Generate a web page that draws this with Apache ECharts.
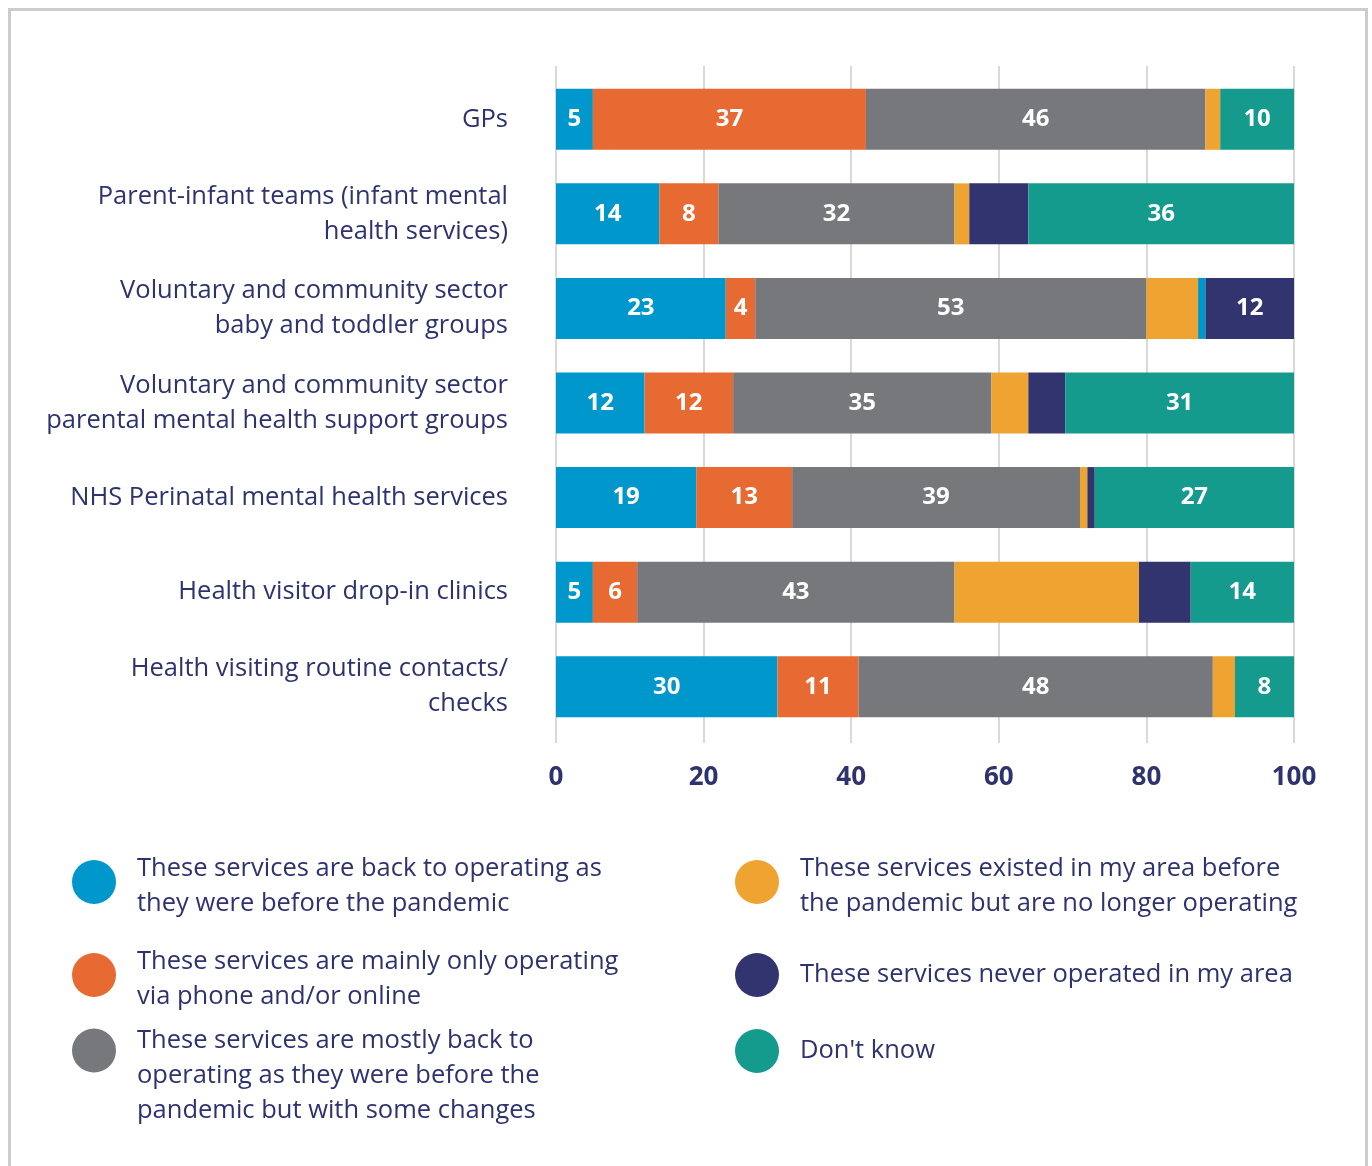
<!DOCTYPE html>
<html>
<head>
<meta charset="utf-8">
<style>
  html, body { margin: 0; padding: 0; background: #ffffff; }
  #chart { width: 1372px; height: 1166px; }
</style>
<script src="https://cdn.jsdelivr.net/npm/echarts@6/dist/echarts.min.js"></script>
</head>
<body>
<div id="chart"></div>
<script>
// Services, top to bottom
const categories = [
  'GPs',
  'Parent-infant teams (infant mental\nhealth services)',
  'Voluntary and community sector\nbaby and toddler groups',
  'Voluntary and community sector\nparental mental health support groups',
  'NHS Perinatal mental health services',
  'Health visitor drop-in clinics',
  'Health visiting routine contacts/\nchecks'
];

// Percentage of respondents per service status
const backAsBefore      = [5, 14, 23, 12, 19, 5, 30];
const phoneOnline       = [37, 8, 4, 12, 13, 6, 11];
const mostlyBack        = [46, 32, 53, 35, 39, 43, 48];
const noLongerOperating = [2, 2, 7, 5, 1, 25, 3];
// small extra segment in the first colour, drawn after the yellow one
const backAsBeforeExtra = [0, 0, 1, 0, 0, 0, 0];
const neverOperated     = [0, 8, 12, 5, 1, 7, 0];
const dontKnow          = [10, 36, 0, 31, 27, 14, 8];

const xTicks = [0, 20, 40, 60, 80, 100];

const legendText = {
  'These services are back to operating as they were before the pandemic':
    'These services are back to operating as\nthey were before the pandemic',
  'These services are mainly only operating via phone and/or online':
    'These services are mainly only operating\nvia phone and/or online',
  'These services are mostly back to operating as they were before the pandemic but with some changes':
    'These services are mostly back to\noperating as they were before the\npandemic but with some changes',
  'These services existed in my area before the pandemic but are no longer operating':
    'These services existed in my area before\nthe pandemic but are no longer operating',
  'These services never operated in my area':
    'These services never operated in my area',
  "Don't know": "Don't know"
};
const names = Object.keys(legendText);

const NAVY = '#2e3370';
const FONT = '"Open Sans", "Noto Sans", sans-serif';
const TEXT_SIZE = 25.5;

function barSeries(name, data, color, minLabel) {
  return {
    name: name,
    type: 'bar',
    stack: 'total',
    barWidth: 61,
    data: data,
    itemStyle: { color: color },
    label: {
      show: true,
      position: 'inside',
      color: '#ffffff',
      fontFamily: FONT,
      fontWeight: 700,
      fontSize: 24,
      formatter: p => (p.value >= minLabel ? String(p.value) : '')
    },
    emphasis: { disabled: true }
  };
}

// One legend entry; an optional spacer line pushes the wrapped text down
// relative to its circle marker.
function legendBlock(name, left, top, spacer) {
  const txtStyle = { fontFamily: FONT, fontSize: TEXT_SIZE, lineHeight: 35, color: NAVY };
  return {
    data: [name],
    left: left,
    top: top,
    orient: 'vertical',
    padding: 0,
    icon: 'circle',
    itemWidth: 44,
    itemHeight: 44,
    selectedMode: false,
    formatter: n => {
      const lines = legendText[n].split('\n').map(l => '{t|' + l + '}');
      if (spacer > 0) lines.unshift('{sp| }');
      return lines.join('\n');
    },
    textStyle: Object.assign({}, txtStyle, {
      padding: [0, 0, 0, 16],
      rich: {
        t: txtStyle,
        sp: { fontFamily: FONT, fontSize: 6, lineHeight: spacer || 1 }
      }
    })
  };
}

const chart = echarts.init(document.getElementById('chart'), null, { renderer: 'canvas' });

const axisCommon = {
  type: 'value',
  min: xTicks[0],
  max: xTicks[xTicks.length - 1],
  interval: xTicks[1] - xTicks[0]
};

chart.setOption({
  animation: false,
  backgroundColor: '#ffffff',
  grid: { left: 556, right: 78, top: 72, bottom: 432 },
  xAxis: [
    Object.assign({}, axisCommon, {
      position: 'bottom',
      axisLine: { show: false },
      axisTick: { show: true, length: 9, lineStyle: { color: '#d9d9d9', width: 2 } },
      splitLine: { show: true, lineStyle: { color: '#d9d9d9', width: 2 } },
      axisLabel: {
        margin: 31,
        color: NAVY,
        fontFamily: FONT,
        fontWeight: 700,
        fontSize: 26
      }
    }),
    Object.assign({}, axisCommon, {
      position: 'top',
      axisLine: { show: false },
      axisTick: { show: true, length: 6, lineStyle: { color: '#d9d9d9', width: 2 } },
      splitLine: { show: false },
      axisLabel: { show: false }
    })
  ],
  yAxis: {
    type: 'category',
    inverse: true,
    data: categories,
    axisLine: { show: false },
    axisTick: { show: false },
    axisLabel: {
      margin: 48,
      color: NAVY,
      fontFamily: FONT,
      fontSize: TEXT_SIZE,
      lineHeight: 35
    }
  },
  legend: [
    legendBlock(names[0], 72, 843, 8),
    legendBlock(names[1], 72, 936, 8),
    legendBlock(names[2], 72, 973, 50),
    legendBlock(names[3], 735, 843, 8),
    legendBlock(names[4], 735, 953, 0),
    legendBlock(names[5], 735, 1029, 0)
  ],
  series: [
    barSeries(names[0], backAsBefore, '#0098cc', 1),
    barSeries(names[1], phoneOnline, '#e86a33', 1),
    barSeries(names[2], mostlyBack, '#77787b', 1),
    barSeries(names[3], noLongerOperating, '#efa330', Infinity),
    barSeries('Back to operating as before (additional)', backAsBeforeExtra, '#0098cc', Infinity),
    barSeries(names[4], neverOperated, '#31346e', 10),
    barSeries(names[5], dontKnow, '#159b8e', 1)
  ],
  graphic: [{
    type: 'rect',
    silent: true,
    shape: { x: 9.5, y: 9.5, width: 1357, height: 1200 },
    style: { fill: 'none', stroke: '#cccccc', lineWidth: 3 }
  }]
});
</script>
</body>
</html>
